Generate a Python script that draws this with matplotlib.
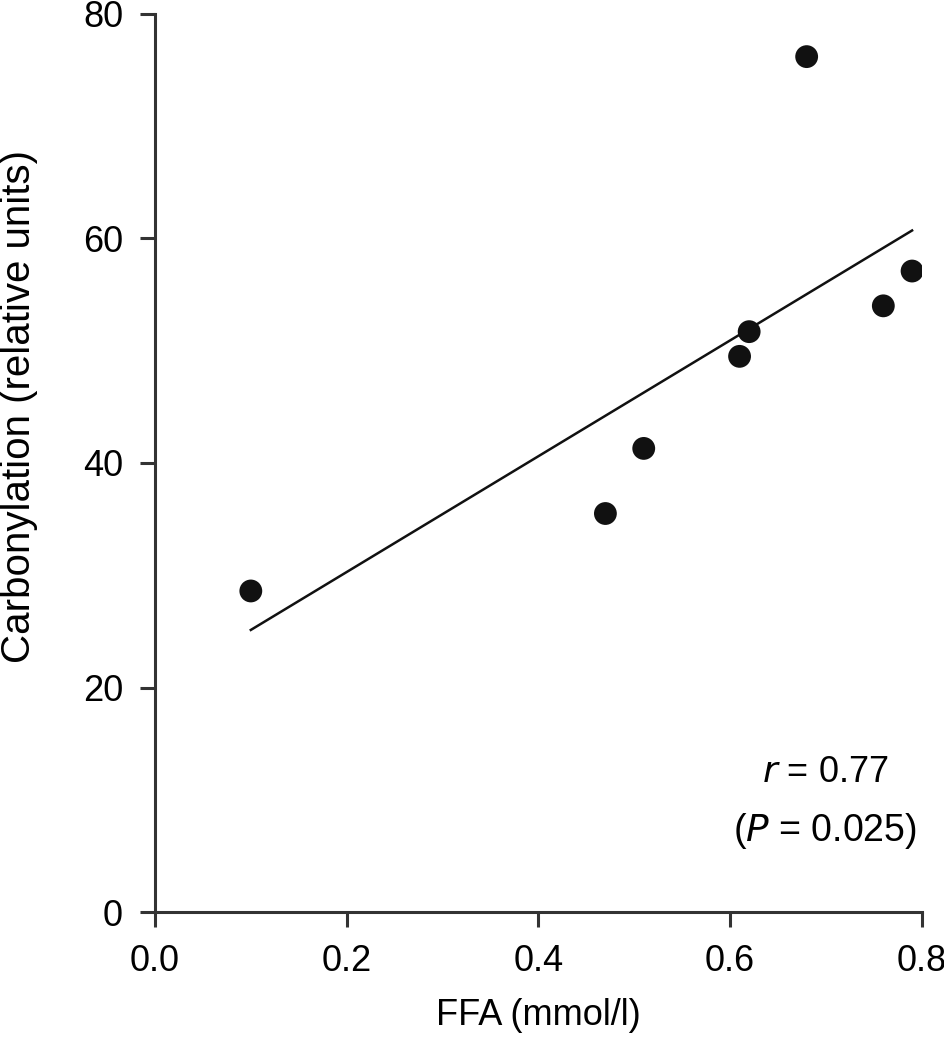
import matplotlib
matplotlib.use('Agg')
import matplotlib.pyplot as plt
import numpy as np

plt.rcParams['font.family'] = ['Liberation Sans', 'DejaVu Sans']

# FFA (mmol/l) vs carbonylation (relative units)
ffa = [0.10, 0.47, 0.51, 0.61, 0.62, 0.68, 0.76, 0.79]
carbonylation = [28.6, 35.5, 41.3, 49.5, 51.7, 76.2, 54.0, 57.1]

x_ticks = [0.0, 0.2, 0.4, 0.6, 0.8]
y_ticks = [0, 20, 40, 60, 80]

# Linear fit across the data range
slope, intercept = np.polyfit(ffa, carbonylation, 1)
fit_x = np.array([min(ffa), max(ffa)])
fit_y = slope * fit_x + intercept

fig = plt.figure(figsize=(9.45, 10.5), dpi=100)
ax = fig.add_axes([0.164, 0.1314, 0.8113, 0.8553])

ax.plot(fit_x, fit_y, color='#111111', linewidth=1.8, zorder=2)
ax.scatter(ffa, carbonylation, s=270, color='#111111', edgecolors='none', zorder=3)

ax.set_xlim(0, 0.8)
ax.set_ylim(0, 80)
ax.set_xticks(x_ticks)
ax.set_xticklabels([f'{t:.1f}' for t in x_ticks])
ax.set_yticks(y_ticks)

for side in ['top', 'right']:
    ax.spines[side].set_visible(False)
for side in ['left', 'bottom']:
    ax.spines[side].set_linewidth(2.2)
    ax.spines[side].set_color('#333333')

ax.tick_params(axis='both', direction='out', length=11, width=2.2, color='#333333',
               labelsize=26, pad=12)

ax.set_xlabel('FFA (mmol/l)', fontsize=26, labelpad=14)
ax.set_ylabel('Carbonylation (relative units)', fontsize=29)
ax.yaxis.set_label_coords(-0.152, 0.563)

ax.text(0.874, 0.155, r'$\it{r}$ = 0.77', transform=ax.transAxes, fontsize=26,
        ha='center', va='center')
ax.text(0.874, 0.09, '(' + r'$\it{P}$' + ' = 0.025)', transform=ax.transAxes, fontsize=27,
        ha='center', va='center')

plt.savefig('out.png', dpi=100)
